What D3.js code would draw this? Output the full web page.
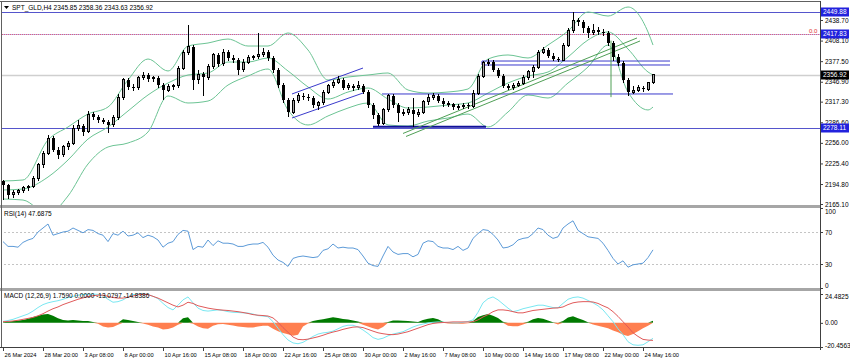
<!DOCTYPE html>
<html>
<head>
<meta charset="utf-8">
<script src="https://cdn.jsdelivr.net/npm/d3@7"></script>
<style>
  body { margin: 0; background: #fff; }
  svg text { font-family: "Liberation Sans", Arial, sans-serif; }
</style>
</head>
<body>
<svg id="chart" width="850" height="364"></svg>
<script>
const symbol = "SPT_GLD,H4";

// H4 candles, [open, high, low, close], one per bar index
const candles = [
  [2199.0,2201.0,2170.5,2193.3],[2193.3,2195.0,2172.0,2178.5],[2178.5,2186.0,2174.0,2182.9],[2182.9,2188.0,2178.0,2185.9],
  [2185.9,2192.0,2181.0,2188.9],[2188.9,2194.0,2184.0,2191.8],[2191.8,2206.0,2189.0,2203.7],[2203.7,2226.0,2200.0,2223.1],
  [2223.1,2244.0,2219.0,2240.9],[2240.9,2268.0,2238.0,2263.2],[2263.2,2266.0,2242.0,2245.4],[2245.4,2250.0,2232.0,2238.0],
  [2238.0,2253.0,2235.0,2249.9],[2249.9,2259.0,2246.0,2255.8],[2255.8,2282.0,2253.0,2278.1],[2278.1,2290.0,2273.0,2281.1],
  [2281.1,2284.0,2266.0,2272.2],[2272.2,2303.0,2270.0,2298.9],[2298.9,2302.0,2290.0,2294.5],[2294.5,2297.0,2286.0,2290.0],
  [2290.0,2293.0,2284.0,2287.0],[2287.0,2290.0,2271.0,2282.6],[2282.6,2297.0,2279.0,2293.0],[2293.0,2328.0,2290.0,2324.2],
  [2324.2,2353.0,2320.0,2349.5],[2349.5,2352.0,2334.0,2339.1],[2339.1,2343.0,2333.0,2337.6],[2337.6,2356.0,2335.0,2352.5],
  [2352.5,2362.0,2349.0,2356.9],[2356.9,2360.0,2347.0,2351.0],[2351.0,2356.0,2346.0,2352.5],[2352.5,2355.0,2338.0,2342.0],
  [2342.0,2345.0,2320.0,2334.6],[2334.6,2343.0,2331.0,2339.1],[2339.1,2344.0,2334.0,2340.6],[2340.6,2371.0,2338.0,2367.3],
  [2367.3,2394.0,2364.0,2391.1],[2391.1,2432.0,2386.0,2398.6],[2398.6,2402.0,2335.0,2349.5],[2349.5,2365.0,2344.0,2358.4],
  [2358.4,2362.0,2325.0,2353.9],[2353.9,2374.0,2350.0,2370.3],[2370.3,2390.0,2366.0,2386.7],[2386.7,2390.0,2369.0,2373.3],
  [2373.3,2395.0,2370.0,2391.1],[2391.1,2394.0,2378.0,2382.2],[2382.2,2386.0,2375.0,2379.2],[2379.2,2382.0,2357.0,2364.4],
  [2364.4,2380.0,2361.0,2376.2],[2376.2,2386.0,2373.0,2382.2],[2382.2,2387.0,2379.0,2383.7],[2383.7,2419.0,2380.0,2386.7],
  [2386.7,2397.0,2383.0,2391.1],[2391.1,2394.0,2378.0,2382.2],[2382.2,2385.0,2360.0,2364.4],[2364.4,2367.0,2338.0,2342.0],
  [2342.0,2345.0,2315.0,2319.7],[2319.7,2322.0,2295.0,2301.9],[2301.9,2323.0,2299.0,2319.7],[2319.7,2330.0,2316.0,2325.7],
  [2325.7,2330.0,2320.0,2324.2],[2324.2,2328.0,2318.0,2322.7],[2322.7,2326.0,2308.0,2312.3],[2312.3,2319.0,2305.0,2315.3],
  [2315.3,2335.0,2312.0,2331.6],[2331.6,2344.0,2328.0,2340.6],[2340.6,2350.0,2337.0,2346.5],[2346.5,2355.0,2343.0,2349.5],
  [2349.5,2352.0,2334.0,2337.6],[2337.6,2345.0,2334.0,2340.6],[2340.6,2344.0,2333.0,2337.6],[2337.6,2348.0,2334.0,2340.6],
  [2340.6,2344.0,2328.0,2331.6],[2331.6,2334.0,2308.0,2312.3],[2312.3,2315.0,2292.0,2297.4],[2297.4,2300.0,2281.0,2284.1],
  [2284.1,2308.0,2282.0,2304.9],[2304.9,2329.0,2302.0,2325.7],[2325.7,2328.0,2308.0,2312.3],[2312.3,2315.0,2287.0,2300.4],
  [2300.4,2307.0,2296.0,2301.9],[2301.9,2309.0,2298.0,2304.9],[2304.9,2322.0,2279.0,2298.9],[2298.9,2306.0,2295.0,2301.9],
  [2301.9,2320.0,2299.0,2316.8],[2316.8,2328.0,2313.0,2324.2],[2324.2,2330.0,2320.0,2325.7],[2325.7,2328.0,2315.0,2318.2],
  [2318.2,2322.0,2310.0,2313.8],[2313.8,2318.0,2309.0,2313.9],[2313.9,2316.0,2305.0,2309.3],[2309.3,2314.0,2305.0,2310.8],
  [2310.8,2316.0,2307.0,2312.3],[2312.3,2315.0,2306.0,2310.8],[2310.8,2334.0,2308.0,2330.1],[2330.1,2359.0,2327.0,2355.4],
  [2355.4,2378.0,2352.0,2374.8],[2374.8,2380.0,2370.0,2376.2],[2376.2,2379.0,2361.0,2364.4],[2364.4,2367.0,2352.0,2355.4],
  [2355.4,2358.0,2337.0,2340.6],[2340.6,2344.0,2334.0,2337.6],[2337.6,2345.0,2335.0,2342.0],[2342.0,2348.0,2339.0,2345.0],
  [2345.0,2357.0,2342.0,2353.9],[2353.9,2364.0,2350.0,2361.4],[2361.4,2372.0,2352.0,2368.8],[2368.8,2394.0,2366.0,2391.1],
  [2391.1,2398.0,2388.0,2394.1],[2394.1,2397.0,2382.0,2385.2],[2385.2,2389.0,2377.0,2380.7],[2380.7,2384.0,2376.0,2379.2],
  [2379.2,2404.0,2377.0,2401.5],[2401.5,2427.0,2398.0,2423.8],[2423.8,2449.88,2420.0,2438.7],[2438.7,2442.0,2430.0,2435.7],
  [2435.7,2438.0,2420.0,2426.8],[2426.8,2430.0,2412.0,2419.4],[2419.4,2433.0,2416.0,2423.8],[2423.8,2428.0,2417.0,2420.9],
  [2420.9,2425.0,2415.0,2419.4],[2419.4,2422.0,2400.0,2404.5],[2404.5,2407.0,2378.0,2383.7],[2383.7,2388.0,2370.0,2374.8],
  [2374.8,2377.0,2345.0,2349.5],[2349.5,2352.0,2325.0,2331.6],[2331.6,2340.0,2328.0,2334.6],[2334.6,2342.0,2331.0,2337.6],
  [2337.6,2341.0,2332.0,2336.1],[2336.1,2347.0,2333.0,2345.85],[2345.85,2358.36,2343.63,2356.92]
];

// bollinger bands (20, 2), sampled at these bar indices
const bbIdx = [0,4,9,13,17,21,25,29,33,37,41,45,49,53,57,61,65,69,73,77,81,85,89,93,97,101,105,109,113,117,121,125,129,130];
const bbUpper = [2199.3,2200.8,2260.3,2279.6,2298.9,2309.3,2349.5,2380.7,2362.9,2400.0,2404.5,2410.4,2400.0,2400.0,2419.4,2394.1,
  2349.5,2353.9,2356.9,2359.9,2334.6,2330.1,2331.6,2336.1,2380.7,2386.7,2382.2,2401.5,2422.3,2450.6,2444.6,2458.0,2420.9,2401.5];
const bbMiddle = [2185.9,2187.4,2205.2,2230.5,2261.7,2279.6,2303.4,2327.2,2345.0,2356.9,2359.9,2376.2,2376.2,2382.2,2362.9,2339.1,
  2321.2,2331.6,2337.6,2321.2,2307.8,2309.3,2312.3,2315.3,2330.1,2345.0,2355.4,2361.4,2383.7,2409.0,2420.9,2395.6,2361.4,2356.9];
const bbLower = [2172.5,2171.0,2150.2,2177.0,2224.6,2249.9,2255.8,2272.2,2325.7,2315.3,2318.2,2342.0,2355.4,2365.8,2304.9,2282.6,
  2296.0,2307.8,2315.3,2282.6,2281.1,2288.5,2293.0,2298.9,2279.6,2301.9,2327.2,2322.7,2345.0,2368.8,2401.5,2331.6,2304.9,2309.3];

// RSI(14), one per bar
const rsi = [58,52,52,51,57,60,62,70,75,80, 66,68,70,71,75,72,69,73,72,68, 66,58,68,66,71,65,66,69,63,66,
  64,60,51,56,58,67,72,71,48,52, 51,60,53,59,56,56,55,52,52,54, 55,55,57,51,41,35,32,27,37,39,
  40,39,38,39,47,49,55,50,51,50, 50,48,40,31,28,27,40,52,45,42, 43,43,39,42,56,59,58,52,50,50,
  48,52,47,50,62,68,73,72,67,60, 50,51,54,60,62,63,68,75,73,66, 62,64,75,80,84,72,68,64,63,62,
  56,47,37,30,34,26,29,30,31,38, 47.6875];

// MACD(12,26,9): main, signal, histogram, one per bar
const macdMain = [1.2,2,3,4.5,6,7.5,10,13,15.5,17, 18,18.8,20,21.5,22.5,23.5,24,24.3,24.4,24.2,
  23,20,17.5,18,19.5,22,24,24.4,24.4,24, 22.5,20.5,16.5,13,11,15,19.5,22,17,12.5,
  10.5,10,10.5,11,10.5,9.5,9,8.8,8.5,8.3, 7.5,6.2,5.8,5.2,1,-4.5,-10,-14.5,-17,-17.7,
  -16.5,-14,-11.5,-9.5,-8.5,-8,-7,-5,-3,-2, -2,-3.5,-6,-9,-12.5,-14,-13,-11,-9.5,-8.5,
  -7.5,-5.5,-3.5,-2,-1,0,0.5,0.8,0.6,0.3, 0,0,0.5,1.2,2.5,9,17,20.5,22,19.5,
  16,12.5,9.5,10.5,12,13,14,15,15,14, 13,12.8,16.5,20,21.5,22,21,19,17,14.5,
  11,6,1,-5,-10,-16,-18.6,-19,-18.6,-16, -13.0797];
const macdSignal = [1,1.2,1.6,2.2,3,3.8,4.6,6,7.8,10, 12,13.5,15.5,17,18.5,20,21.2,22.3,23,23.5,
  23.5,22.5,21.5,21,21,21.8,22.8,23.8,24.3,24, 22.5,21,19,17,15,13.5,15,17.5,16.5,14.5,
  13.5,12.5,11.8,11.2,10.8,10.5,10,9.5,8.8,8, 7,6.5,6.2,5.8,4.2,0.5,-4,-8,-12,-14,
  -14.3,-13.8,-12.8,-11.8,-10.5,-9,-7.8,-6.8,-5.5,-4.5, -3.6,-3.4,-4,-5.5,-7,-8.4,-9.2,-9.8,-10,-9.5,
  -8.5,-7.5,-6,-4.5,-3,-1.5,-0.5,0,0.3,0.5, 0.8,0.8,0.8,0.8,1,2.5,5,7,9.5,11,
  11,10.5,9.5,8.5,8.5,9.5,10.5,11,11.5,12, 12.5,12.7,13.5,15.5,17,17.7,18,18,17.7,16.5,
  14.5,12.7,9.5,5.5,1,-3.5,-8.4,-11.5,-14,-14.6, -14.8386];
const macdHist = [0.5,1,1.5,2,2.5,3.5,5,6,7,7.6, 6,4,2.5,2,2.5,2,1.5,1.5,0.8,-0.8,
  -3,-4,-3.5,-1.5,3,2.5,1.5,0.8,-0.5,-1.5, -3,-4,-5.6,-5.2,-4,-1.5,4,4.8,-0.8,-3,
  -4.5,-5,-2.5,-1.2,-1,-1.5,-2.2,-3,-3.5,-4, -4,-3,-2.5,-2.5,-5,-7,-8.5,-9.6,-11,-10,
  -3,-0.5,1.5,2.5,3,4,4.8,4.2,3.2,2.8, 2,1.2,-1.5,-3,-4.5,-5.6,-3.5,0.8,2,2,
  1.8,1.5,1.2,0.8,2.5,3.6,4.2,3,1,-0.5, -0.8,-0.8,-0.8,-0.3,1.5,5,6.5,7.6,6,4.2,
  1,-2.5,-2.8,-2.8,-1.4,1,3,4.2,3.5,2, 0.5,-1.4,1.5,4.5,5.6,4,2.5,0.5,-1.4,-2.5,
  -3.5,-4.5,-6.5,-8,-10,-11.2,-9.5,-7,-4.5,-2.5, 1.759];

// time axis
const dateIdx = [0,8,16,24,32,40,48,56,64,72,80,88,96,104,112,120,128];
const dateLabels = ["26 Mar 2024","28 Mar 20:00","3 Apr 08:00","8 Apr 00:00","10 Apr 16:00","15 Apr 08:00",
  "18 Apr 00:00","22 Apr 16:00","25 Apr 08:00","30 Apr 00:00","2 May 16:00","7 May 08:00","10 May 00:00",
  "14 May 16:00","17 May 08:00","22 May 00:00","24 May 16:00"];

const priceTicks = [2438.70, 2408.10, 2377.50, 2346.90, 2317.30, 2286.60, 2256.00, 2225.40, 2194.80, 2165.10];
const rsiTicks = [100, 70, 30, 0];
const macdTicks = [24.4825, 0, -20.4563];

// horizontal levels: ATH, fibo 0.0, bid, support
const levelPrices = [2449.88, 2417.83, 2356.92, 2278.11];

// hand drawn objects [bar1, price1, bar2, price2]
const blueLines = [
  [57.8, 2328.7, 72.0, 2367.3],
  [57.8, 2293.0, 72.0, 2330.1],
  [75.8, 2328.7, 134.0, 2328.7],
  [95.8, 2377.7, 133.4, 2377.7],
  [95.8, 2371.8, 133.4, 2371.8],
  [95.8, 2377.7, 95.8, 2371.8]
];
const baseLine = [74.0, 2279.8, 96.6, 2279.8];
const greenLines = [
  [80.0, 2270.0, 126.8, 2412.0],
  [80.6, 2265.5, 127.4, 2407.5],
  [121.6, 2408.0, 121.6, 2324.0]
];

const axisX = 820;
const svg = d3.select('#chart');

const x = d3.scaleLinear().domain([0, 163.4]).range([3, axisX]);
const yMain = d3.scaleLinear().domain([2165.10, 2438.70]).range([204, 20]);
const yRsi = d3.scaleLinear().domain([0, 100]).range([288, 208]);
const yMacd = d3.scaleLinear().domain([-20.4563, 24.4825]).range([347, 294]);

const defs = svg.append('defs');
[['clipMain', 3, 205], ['clipRsi', 208, 288], ['clipMacd', 291, 347]].forEach(([id, y0, y1]) => {
  defs.append('clipPath').attr('id', id).append('rect')
    .attr('x', 2).attr('y', y0).attr('width', axisX - 2).attr('height', y1 - y0);
});

// ---- main panel
const main = svg.append('g').attr('clip-path', 'url(#clipMain)');

// levels
main.append('line').attr('x1', 0).attr('x2', axisX)
  .attr('y1', Math.round(yMain(levelPrices[2])) + 0.5).attr('y2', Math.round(yMain(levelPrices[2])) + 0.5)
  .attr('stroke', '#cfcfcf').attr('stroke-width', 1.5);
[0, 3].forEach(k => {
  const yy = Math.round(yMain(levelPrices[k])) + 0.5;
  main.append('line').attr('x1', 0).attr('x2', axisX).attr('y1', yy).attr('y2', yy)
    .attr('stroke', '#5555cc').attr('stroke-width', 1.2);
});
{
  const yy = Math.round(yMain(levelPrices[1])) + 0.5;
  main.append('line').attr('x1', 0).attr('x2', axisX).attr('y1', yy).attr('y2', yy)
    .attr('stroke', '#b8b8ec').attr('stroke-width', 1);
  main.append('line').attr('x1', 0).attr('x2', axisX).attr('y1', yy).attr('y2', yy)
    .attr('stroke', '#e06080').attr('stroke-width', 1).attr('stroke-dasharray', '1,1');
  svg.append('text').attr('x', 809).attr('y', yy - 2).attr('font-size', 6).attr('fill', '#e03030').text('0.0');
}

// bollinger
const bbLine = d3.line().x(d => x(d[0])).y(d => yMain(d[1])).curve(d3.curveMonotoneX);
[bbUpper, bbMiddle, bbLower].forEach(arr => {
  main.append('path').datum(d3.zip(bbIdx, arr)).attr('d', bbLine)
    .attr('fill', 'none').attr('stroke', '#6cc494').attr('stroke-width', 1);
});

// drawings
const segLine = (g, d, color, w) => g.append('line')
  .attr('x1', x(d[0])).attr('y1', yMain(d[1])).attr('x2', x(d[2])).attr('y2', yMain(d[3]))
  .attr('stroke', color).attr('stroke-width', w);
blueLines.forEach(d => segLine(main, d, '#3a3acc', 1));
segLine(main, baseLine, '#10109a', 2);
greenLines.forEach(d => segLine(main, d, '#4f9f55', 1));

// candles
const cg = main.append('g').attr('shape-rendering', 'crispEdges');
candles.forEach((c, i) => {
  const [o, h, l, cl] = c;
  const cx = Math.round(x(i));
  cg.append('line').attr('x1', cx + 0.5).attr('x2', cx + 0.5)
    .attr('y1', yMain(h)).attr('y2', yMain(l)).attr('stroke', '#000');
  const top = yMain(Math.max(o, cl)), bot = yMain(Math.min(o, cl));
  const hgt = Math.max(1, bot - top);
  if (cl >= o) {
    cg.append('rect').attr('x', cx - 0.5).attr('y', top).attr('width', 2).attr('height', hgt)
      .attr('fill', '#a8a8a8').attr('stroke', '#000').attr('stroke-width', 1);
  } else {
    cg.append('rect').attr('x', cx - 1).attr('y', top).attr('width', 3).attr('height', hgt).attr('fill', '#000');
  }
});

// ---- RSI panel
const rsiG = svg.append('g').attr('clip-path', 'url(#clipRsi)');
[70, 30].forEach(v => {
  rsiG.append('line').attr('x1', 0).attr('x2', axisX)
    .attr('y1', Math.round(yRsi(v)) + 0.5).attr('y2', Math.round(yRsi(v)) + 0.5)
    .attr('stroke', '#c4c4c4').attr('stroke-dasharray', '2,2');
});
rsiG.append('path').datum(rsi)
  .attr('d', d3.line().x((d, i) => x(i)).y(d => yRsi(d)))
  .attr('fill', 'none').attr('stroke', '#5d9bd8').attr('stroke-width', 1);

// ---- MACD panel
const macdG = svg.append('g').attr('clip-path', 'url(#clipMacd)');
const histArea = sign => d3.area()
  .x((d, i) => x(i))
  .y0(yMacd(0))
  .y1(d => yMacd(sign > 0 ? Math.max(0, d) : Math.min(0, d)));
macdG.append('path').datum(macdHist).attr('d', histArea(1)).attr('fill', '#007a00');
macdG.append('path').datum(macdHist).attr('d', histArea(-1)).attr('fill', '#ff7f50');
macdG.append('path').datum(macdMain)
  .attr('d', d3.line().x((d, i) => x(i)).y(d => yMacd(d)))
  .attr('fill', 'none').attr('stroke', '#7ae8f2').attr('stroke-width', 1);
macdG.append('path').datum(macdSignal)
  .attr('d', d3.line().x((d, i) => x(i)).y(d => yMacd(d)))
  .attr('fill', 'none').attr('stroke', '#e05a5a').attr('stroke-width', 1);

// ---- frame
svg.append('rect').attr('x', 0).attr('y', 205).attr('width', axisX).attr('height', 3).attr('fill', '#a6a6a6');
svg.append('rect').attr('x', 0).attr('y', 288).attr('width', axisX).attr('height', 3).attr('fill', '#a6a6a6');
svg.append('line').attr('x1', 0).attr('x2', axisX).attr('y1', 1.5).attr('y2', 1.5).attr('stroke', '#606060');
svg.append('line').attr('x1', 1.5).attr('x2', 1.5).attr('y1', 1).attr('y2', 347).attr('stroke', '#606060');
svg.append('line').attr('x1', axisX + 0.5).attr('x2', axisX + 0.5).attr('y1', 1).attr('y2', 350).attr('stroke', '#404040');
svg.append('line').attr('x1', 0).attr('x2', axisX).attr('y1', 347.5).attr('y2', 347.5).attr('stroke', '#404040');

// ---- axes
const styleAxis = (g, fs) => {
  g.select('.domain').remove();
  g.selectAll('text').attr('font-size', fs).attr('fill', '#000');
  g.selectAll('line').attr('stroke', '#404040');
};
svg.append('g').attr('transform', `translate(${axisX},0)`)
  .call(d3.axisRight(yMain).tickValues(priceTicks).tickSize(3).tickPadding(2).tickFormat(d => d.toFixed(2)))
  .call(styleAxis, 6.5);
svg.append('g').attr('transform', `translate(${axisX},0)`)
  .call(d3.axisRight(yRsi).tickValues(rsiTicks).tickSize(3).tickPadding(2).tickFormat(d3.format('d')))
  .call(styleAxis, 6.5)
  .call(g => g.selectAll('text').attr('dy', d => d === 100 ? '0.9em' : d === 0 ? '-0.1em' : '0.32em'));
svg.append('g').attr('transform', `translate(${axisX},0)`)
  .call(d3.axisRight(yMacd).tickValues(macdTicks).tickSize(3).tickPadding(2)
    .tickFormat(d => d === 0 ? '0.00' : d.toFixed(4)))
  .call(styleAxis, 6.5)
  .call(g => g.selectAll('text').attr('dy', d => d > 0 ? '0.7em' : d < 0 ? '0em' : '0.32em'));

svg.append('g').attr('transform', 'translate(0,347)')
  .call(d3.axisBottom(x).tickValues(dateIdx).tickSize(4).tickPadding(2).tickFormat((d, i) => dateLabels[i]))
  .call(styleAxis, 5.7)
  .call(g => g.selectAll('text').attr('text-anchor', 'start').attr('x', 1));

// price boxes on the axis
const boxColors = ['#2222dd', '#2222dd', '#000000', '#2222dd'];
levelPrices.forEach((p, k) => {
  const yy = Math.round(yMain(p));
  svg.append('rect').attr('x', axisX + 1).attr('y', yy - 4.5).attr('width', 28).attr('height', 9).attr('fill', boxColors[k]);
  svg.append('text').attr('x', axisX + 3).attr('y', yy + 2.3).attr('font-size', 6.5).attr('fill', '#fff').text(p.toFixed(2));
});

// ---- captions
const last = candles[candles.length - 1];
svg.append('path').attr('d', 'M4,6 L9,6 L6.5,9 Z').attr('fill', '#000');
svg.append('text').attr('x', 12).attr('y', 10).attr('font-size', 6.5).attr('fill', '#000')
  .text(`${symbol}  ${last.map(v => v.toFixed(2)).join(' ')}`);
svg.append('text').attr('x', 4).attr('y', 216).attr('font-size', 6.5).attr('fill', '#000')
  .text(`RSI(14) ${rsi[rsi.length - 1].toFixed(4)}`);
svg.append('text').attr('x', 4).attr('y', 298).attr('font-size', 6.5).attr('fill', '#000')
  .text(`MACD (12,26,9) ${macdHist[macdHist.length - 1].toFixed(4)} 0.0000 ${macdMain[macdMain.length - 1].toFixed(4)} ${macdSignal[macdSignal.length - 1].toFixed(4)}`);
</script>
</body>
</html>
